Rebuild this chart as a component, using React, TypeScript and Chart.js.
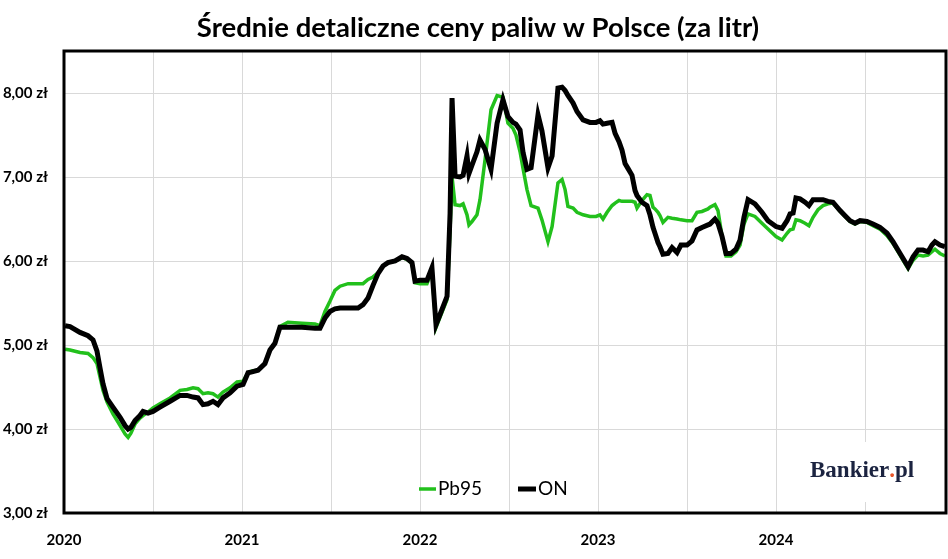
import React, { useEffect, useRef } from "react";
import { Chart, registerables } from "chart.js";

Chart.register(...registerables);

const TITLE = "Średnie detaliczne ceny paliw w Polsce (za litr)";
const SERIES_NAMES = ["Pb95", "ON"];
const X_MIN = 2020;
const X_MAX = 2024.955;
const Y_MIN = 3;
const Y_MAX = 8.5;

// time positions (decimal years)
const times = [
  2020.006, 2020.034, 2020.09, 2020.135, 2020.163, 2020.185, 2020.202, 2020.219, 2020.242, 2020.275,
  2020.315, 2020.343, 2020.36, 2020.376, 2020.399, 2020.427, 2020.444, 2020.472, 2020.5, 2020.539,
  2020.596, 2020.652, 2020.691, 2020.725, 2020.753, 2020.781, 2020.809, 2020.837, 2020.865, 2020.893,
  2020.933, 2020.972, 2021.006, 2021.034, 2021.056, 2021.09, 2021.129, 2021.157, 2021.185, 2021.213,
  2021.258, 2021.337, 2021.41, 2021.438, 2021.466, 2021.494, 2021.522, 2021.551, 2021.596, 2021.652,
  2021.68, 2021.708, 2021.736, 2021.764, 2021.792, 2021.82, 2021.86, 2021.899, 2021.927, 2021.955,
  2021.972, 2022.0, 2022.039, 2022.067, 2022.09, 2022.112, 2022.152, 2022.169, 2022.18, 2022.197,
  2022.225, 2022.242, 2022.264, 2022.275, 2022.292, 2022.32, 2022.337, 2022.365, 2022.399, 2022.433,
  2022.466, 2022.494, 2022.522, 2022.539, 2022.562, 2022.579, 2022.601, 2022.624, 2022.663, 2022.685,
  2022.719, 2022.742, 2022.775, 2022.798, 2022.815, 2022.831, 2022.86, 2022.882, 2022.916, 2022.955,
  2022.989, 2023.011, 2023.028, 2023.051, 2023.079, 2023.096, 2023.118, 2023.135, 2023.152, 2023.169,
  2023.191, 2023.208, 2023.219, 2023.247, 2023.275, 2023.292, 2023.309, 2023.32, 2023.337, 2023.348,
  2023.365, 2023.393, 2023.416, 2023.444, 2023.466, 2023.5, 2023.528, 2023.556, 2023.584, 2023.618,
  2023.629, 2023.657, 2023.674, 2023.697, 2023.719, 2023.747, 2023.775, 2023.798, 2023.82, 2023.843,
  2023.882, 2023.921, 2023.955, 2024.0, 2024.034, 2024.062, 2024.079, 2024.096, 2024.112, 2024.135,
  2024.163, 2024.185, 2024.208, 2024.236, 2024.264, 2024.292, 2024.32, 2024.36, 2024.388, 2024.416,
  2024.444, 2024.472, 2024.511, 2024.545, 2024.584, 2024.624, 2024.657, 2024.697, 2024.725, 2024.742,
  2024.77, 2024.798, 2024.826, 2024.854, 2024.876, 2024.893, 2024.921, 2024.949,
];

// Pb95 (zł / litr)
const pb95 = [
  4.95, 4.94, 4.91, 4.9, 4.85, 4.78, 4.62, 4.46, 4.32, 4.18,
  4.04, 3.94, 3.9, 3.95, 4.06, 4.13, 4.16, 4.2, 4.25, 4.3,
  4.37, 4.46, 4.47, 4.49, 4.48, 4.42, 4.43, 4.42, 4.38, 4.44,
  4.49, 4.56, 4.57, 4.67, 4.69, 4.7, 4.78, 4.94, 5.02, 5.22,
  5.27, 5.26, 5.25, 5.23, 5.4, 5.52, 5.65, 5.7, 5.73, 5.73,
  5.73, 5.78, 5.81, 5.86, 5.94, 5.98, 6.0, 6.04, 6.02, 5.97,
  5.74, 5.73, 5.73, 5.88, 5.21, 5.33, 5.54, 6.37, 7.0, 6.67,
  6.66, 6.68, 6.55, 6.43, 6.47, 6.55, 6.73, 7.2, 7.8, 7.97,
  7.95, 7.64, 7.58, 7.5, 7.3, 7.1, 6.85, 6.66, 6.63, 6.49,
  6.23, 6.41, 6.93, 6.97, 6.85, 6.65, 6.63, 6.58, 6.55, 6.53,
  6.53, 6.55, 6.5, 6.58, 6.66, 6.69, 6.72, 6.71, 6.71, 6.71,
  6.71, 6.7, 6.63, 6.72, 6.79, 6.78, 6.64, 6.62, 6.58, 6.54,
  6.46, 6.52, 6.51, 6.5, 6.49, 6.48, 6.48, 6.58, 6.59, 6.62,
  6.64, 6.67, 6.6, 6.29, 6.06, 6.06, 6.11, 6.19, 6.44, 6.56,
  6.53, 6.45, 6.38, 6.29, 6.25, 6.33, 6.37, 6.38, 6.49, 6.48,
  6.45, 6.42, 6.52, 6.61, 6.66, 6.68, 6.69, 6.59, 6.53, 6.47,
  6.44, 6.47, 6.46, 6.42, 6.38, 6.3, 6.21, 6.07, 5.97, 5.91,
  6.01, 6.07, 6.06, 6.07, 6.11, 6.14, 6.09, 6.06,
];

// ON (olej napędowy, zł / litr)
const on = [
  5.23, 5.22, 5.15, 5.11, 5.06, 4.93, 4.73, 4.54, 4.36, 4.26,
  4.14, 4.04, 4.0, 4.02, 4.1, 4.16, 4.21, 4.19, 4.21, 4.26,
  4.33, 4.4, 4.4, 4.38, 4.37, 4.29, 4.3, 4.33, 4.29, 4.37,
  4.43, 4.51, 4.53, 4.67, 4.68, 4.7, 4.78, 4.94, 5.02, 5.21,
  5.21, 5.21, 5.2, 5.2, 5.32, 5.4, 5.43, 5.44, 5.44, 5.44,
  5.48, 5.56, 5.71, 5.85, 5.94, 5.98, 6.0, 6.05, 6.03, 5.98,
  5.76, 5.77, 5.77, 5.92, 5.24, 5.36, 5.58, 6.57, 7.94, 7.01,
  7.0, 7.02, 7.25, 7.04, 7.14, 7.3, 7.44, 7.33, 7.09, 7.64,
  7.92, 7.72, 7.65, 7.63, 7.56, 7.29, 7.09, 7.11, 7.74, 7.55,
  7.11, 7.25, 8.06, 8.07, 8.03, 7.97, 7.88, 7.78, 7.68, 7.65,
  7.65, 7.67, 7.63, 7.64, 7.65, 7.52, 7.42, 7.32, 7.16, 7.1,
  7.02, 6.84, 6.78, 6.7, 6.66, 6.55, 6.4, 6.33, 6.22, 6.17,
  6.08, 6.09, 6.16, 6.1, 6.19, 6.19, 6.24, 6.37, 6.4, 6.43,
  6.44, 6.5, 6.45, 6.29, 6.09, 6.09, 6.14, 6.25, 6.52, 6.73,
  6.68, 6.58, 6.48, 6.41, 6.39, 6.48, 6.56, 6.57, 6.75, 6.74,
  6.7, 6.66, 6.73, 6.73, 6.73, 6.71, 6.7, 6.6, 6.54, 6.48,
  6.45, 6.48, 6.47, 6.44, 6.4, 6.33, 6.23, 6.09, 5.99, 5.93,
  6.05, 6.13, 6.13, 6.11, 6.19, 6.23, 6.19, 6.17,
];

const GREEN = "#22c01c";
const BLACK = "#000000";

const fmtY = (v: number) => v.toFixed(2).replace(".", ",") + " zł";

const overlayPlugin = {
  id: "overlay",
  beforeDatasetsDraw(chart: any) {
    const ctx = chart.ctx;
    ctx.save();
    ctx.fillStyle = "#ffffff";
    ctx.fillRect(800, 442, 126, 60);
    ctx.restore();
  },
  afterDraw(chart: any) {
    const ctx = chart.ctx;
    const a = chart.chartArea;
    ctx.save();
    // plot frame
    ctx.strokeStyle = "#000";
    ctx.lineWidth = 3;
    ctx.strokeRect(a.left, a.top, a.right - a.left, a.bottom - a.top);

    // y tick labels
    const ys = chart.scales.y;
    ctx.fillStyle = "#000";
    ctx.font = "bold 15px Lato";
    ctx.textAlign = "right";
    ctx.textBaseline = "middle";
    ys.ticks.forEach((t: any) => {
      ctx.fillText(fmtY(t.value), 48, ys.getPixelForValue(t.value));
    });

    // title
    ctx.font = "bold 27.5px Lato";
    ctx.textAlign = "center";
    ctx.textBaseline = "middle";
    ctx.fillText(TITLE, 478, 28);

    // legend
    const ds = chart.data.datasets;
    ctx.font = "19px Lato";
    ctx.textAlign = "left";
    ctx.textBaseline = "middle";
    const ly = 489;
    const items = [
      { x: 419, w: 17, lw: 3.5 },
      { x: 518, w: 18, lw: 5 },
    ];
    items.forEach((it, i) => {
      ctx.strokeStyle = ds[i].borderColor;
      ctx.lineWidth = it.lw;
      ctx.beginPath();
      ctx.moveTo(it.x, ly);
      ctx.lineTo(it.x + it.w, ly);
      ctx.stroke();
      ctx.fillStyle = "#000";
      ctx.fillText(ds[i].label, it.x + it.w + 2, ly);
    });

    // logo
    ctx.font = "bold 23px 'Liberation Serif'";
    ctx.textBaseline = "alphabetic";
    let lx = 810;
    const lyb = 477;
    ctx.fillStyle = "#1b2340";
    ctx.fillText("Bankier", lx, lyb);
    lx += ctx.measureText("Bankier").width;
    ctx.fillStyle = "#e8562a";
    ctx.fillText(".", lx, lyb);
    lx += ctx.measureText(".").width;
    ctx.fillStyle = "#1b2340";
    ctx.fillText("pl", lx, lyb);
    ctx.restore();
  },
};

export default function App() {
  const ref = useRef<HTMLCanvasElement | null>(null);

  useEffect(() => {
    document.body.style.margin = "0";
    if (!ref.current) return;
    Chart.defaults.font.family = "Lato";
    const chart = new Chart(ref.current, {
      type: "line",
      data: {
        datasets: [
          {
            label: SERIES_NAMES[0],
            data: times.map((t, i) => ({ x: t, y: pb95[i] })),
            borderColor: GREEN,
            backgroundColor: GREEN,
            borderWidth: 3.5,
            pointRadius: 0,
            tension: 0,
            order: 1,
          },
          {
            label: SERIES_NAMES[1],
            data: times.map((t, i) => ({ x: t, y: on[i] })),
            borderColor: BLACK,
            backgroundColor: BLACK,
            borderWidth: 5,
            pointRadius: 0,
            tension: 0,
            order: 0,
          },
        ],
      },
      options: {
        responsive: false,
        animation: false,
        layout: { padding: { top: 51, right: 2, left: 0, bottom: 0 } },
        plugins: {
          legend: { display: false },
          title: { display: false },
          tooltip: { enabled: false },
        },
        scales: {
          x: {
            type: "linear",
            min: X_MIN,
            max: X_MAX,
            afterFit: (s: any) => {
              s.height = 46;
            },
            grid: { color: "#d9d9d9", lineWidth: 1, drawTicks: false },
            border: { display: false },
            ticks: {
              stepSize: 0.5,
              includeBounds: false,
              autoSkip: false,
              maxRotation: 0,
              padding: 18,
              color: "#000",
              font: { size: 15, weight: "bold" },
              callback: (v: any) => (Number.isInteger(v) ? String(v) : ""),
            },
          },
          y: {
            min: Y_MIN,
            max: Y_MAX,
            afterFit: (s: any) => {
              s.width = 64;
            },
            grid: { color: "#d9d9d9", lineWidth: 1, drawTicks: false },
            border: { display: false },
            ticks: {
              stepSize: 1,
              includeBounds: false,
              display: false,
              color: "#000",
            },
          },
        },
      },
      plugins: [overlayPlugin],
    });
    return () => chart.destroy();
  }, []);

  return (
    <div style={{ width: 948, height: 559, background: "#fff" }}>
      <canvas ref={ref} width={948} height={559} />
    </div>
  );
}
